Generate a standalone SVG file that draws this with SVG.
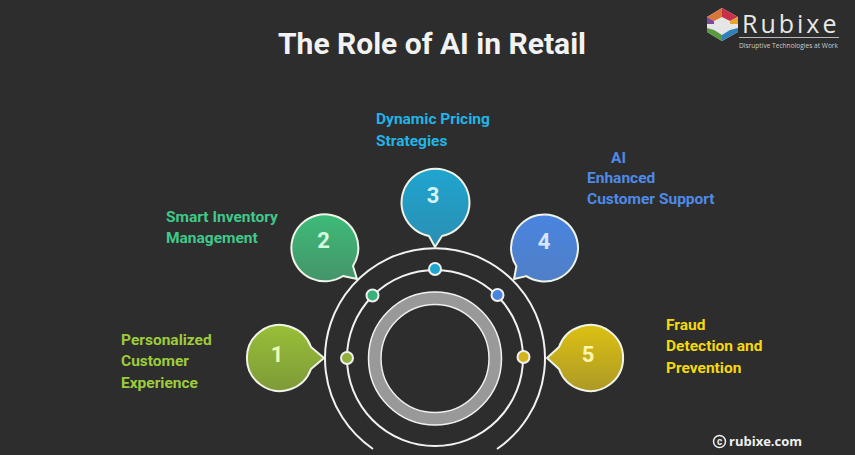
<svg xmlns="http://www.w3.org/2000/svg" width="855" height="455" viewBox="0 0 855 455">
<style>
text{font-family:Roboto,"Liberation Sans",sans-serif}
.title{font-size:30px;font-weight:700;fill:#f2f2f2}
.lbl{font-size:15.500px;font-weight:700}
.num{font-size:22px;font-weight:700;text-anchor:middle}
.bub{stroke:#f0f4e8;stroke-width:2;stroke-linejoin:round}
.ring{fill:none;stroke:#f2f2f2;stroke-width:2}
.dot{stroke:#f0f0f0;stroke-width:2}
</style>
<defs>
<linearGradient id="g1" x1="0" y1="0" x2="0" y2="1"><stop offset="0" stop-color="#98bf38"/><stop offset="1" stop-color="#7e9a38"/></linearGradient>
<linearGradient id="g2" x1="0" y1="0" x2="0" y2="1"><stop offset="0" stop-color="#3dbb78"/><stop offset="1" stop-color="#45946a"/></linearGradient>
<linearGradient id="g3" x1="0" y1="0" x2="0" y2="1"><stop offset="0" stop-color="#1fa5cf"/><stop offset="1" stop-color="#2b8eb2"/></linearGradient>
<linearGradient id="g4" x1="0" y1="0" x2="0" y2="1"><stop offset="0" stop-color="#4a84e0"/><stop offset="1" stop-color="#4f7fc6"/></linearGradient>
<linearGradient id="g5" x1="0" y1="0" x2="0" y2="1"><stop offset="0" stop-color="#dcc012"/><stop offset="1" stop-color="#ad9a26"/></linearGradient>
</defs>
<rect width="855" height="455" fill="#2d2d2d"/>
<text class="title" x="432" y="54" text-anchor="middle">The Role of AI in Retail</text>

<g id="logo">
<polygon points="722,8 738,17 738,32 722,41 707,32 707,17" fill="#e6e6e6"/>
<polygon points="722,8 707,17 714,21 722,17" fill="#d8763a"/>
<polygon points="722,8 738,17 730,21 722,17" fill="#c8304a"/>
<polygon points="707,17 707,24 714,24 714,21" fill="#7b4a9e"/>
<polygon points="738,17 738,24 730,24 730,21" fill="#e0a82e"/>
<polygon points="707,28 707,32 722,41 722,35 714,30" fill="#5a9a3e"/>
<polygon points="738,28 738,32 722,41 722,35 730,30" fill="#2f7fb8"/>
<text x="742" y="33" font-size="25" fill="#e8e8e8" style="font-family:'Open Sans','Liberation Sans',sans-serif;letter-spacing:3px">Rubixe</text>
<rect x="739" y="37" width="100" height="1" fill="#bbbbbb"/>
<text x="739" y="47.500" font-size="6.600" fill="#cccccc" style="font-family:'Open Sans','Liberation Sans',sans-serif">Disruptive Technologies at Work</text>
</g>

<g id="connectors">
<path class="ring" d="M373 449A110 110 0 1 1 497 449"/>
<circle class="ring" cx="435" cy="358" r="88"/>
<circle cx="435" cy="358.500" r="60.500" fill="none" stroke="#999999" stroke-width="12.500"/>
<circle cx="435" cy="358.500" r="66.500" fill="none" stroke="#f0f0f0" stroke-width="1.500"/>
<circle cx="435" cy="358.500" r="54" fill="none" stroke="#f0f0f0" stroke-width="1.500"/>
</g>

<g id="node1">
<path class="bub" fill="url(#g1)" d="M311 347A33 33 0 1 0 311 369L324 358Z"/>
<text class="num" x="277" y="362" fill="#ecffb0">1</text>
<circle class="dot" cx="347" cy="358" r="6" fill="#8fb03a"/>
<text class="lbl" fill="#9ccc3c"><tspan x="121" y="345">Personalized</tspan><tspan x="121" y="366">Customer</tspan><tspan x="121" y="388">Experience</tspan></text>
</g>
<g id="node2">
<path class="bub" fill="url(#g2)" d="M353 266L357 279L343 276A33.500 33.500 0 1 1 353 266Z"/>
<text class="num" x="323.500" y="248" fill="#d4ffe0">2</text>
<circle class="dot" cx="372.500" cy="295.500" r="6" fill="#38b27a"/>
<text class="lbl" fill="#3fc98a"><tspan x="166" y="222">Smart Inventory</tspan><tspan x="166" y="243">Management</tspan></text>
</g>
<g id="node3">
<path class="bub" fill="url(#g3)" d="M429 236L435 247L442 236A34 34 0 1 0 429 236Z"/>
<text class="num" x="433" y="203" fill="#d4f4ff">3</text>
<circle class="dot" cx="435" cy="269" r="6" fill="#1fa5cf"/>
<text class="lbl" fill="#22b4e6"><tspan x="376" y="124">Dynamic Pricing</tspan><tspan x="376" y="146">Strategies</tspan></text>
</g>
<g id="node4">
<path class="bub" fill="url(#g4)" d="M516.400 266.200L514 279L526.300 276.100A33.500 33.500 0 1 0 516.400 266.200Z"/>
<text class="num" x="544" y="249" fill="#d8e6ff">4</text>
<circle class="dot" cx="497.500" cy="295" r="6" fill="#4a84e0"/>
<text class="lbl" fill="#4f8ae8"><tspan x="611" y="163">AI</tspan><tspan x="587" y="183">Enhanced</tspan><tspan x="587" y="204">Customer Support</tspan></text>
</g>
<g id="node5">
<path class="bub" fill="url(#g5)" d="M559 347L547 358L559 369A33 33 0 1 0 559 347Z"/>
<text class="num" x="588" y="362" fill="#fff6b0">5</text>
<circle class="dot" cx="523.500" cy="357" r="6" fill="#d4b41c"/>
<text class="lbl" fill="#f5d80f"><tspan x="666" y="330">Fraud</tspan><tspan x="666" y="351">Detection and</tspan><tspan x="666" y="373">Prevention</tspan></text>
</g>

<g id="copyright">
<circle cx="719.500" cy="441.500" r="6" fill="none" stroke="#f0f0f0" stroke-width="1.500"/>
<text x="719.500" y="445" font-size="10" font-weight="700" fill="#f0f0f0" text-anchor="middle">c</text>
<text x="729" y="446" font-size="13" font-weight="700" fill="#f0f0f0" style="font-family:'Open Sans','Liberation Sans',sans-serif">rubixe.com</text>
</g>
</svg>
